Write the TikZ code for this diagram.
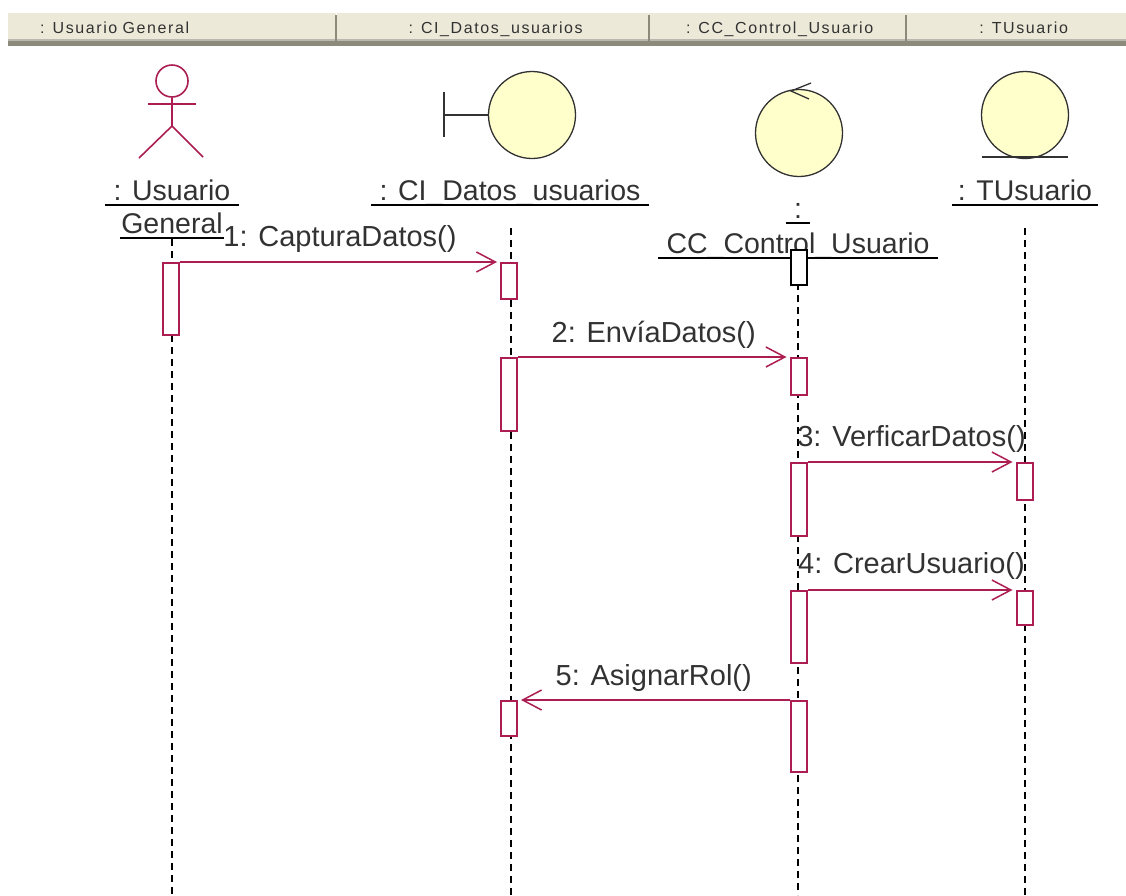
\documentclass[tikz,border=0pt]{standalone}
\usepackage{fontspec}
\usepackage{xcolor}
\usepackage{tikz}
\usetikzlibrary{positioning,arrows.meta}
\setmainfont{Liberation Sans}
\newfontfamily\hdfont[LetterSpace=10,WordSpace=2]{Liberation Sans}
\definecolor{umlred}{RGB}{172,30,82}
\definecolor{umlyel}{RGB}{255,255,204}
\definecolor{hdrbg}{RGB}{236,233,216}
\definecolor{hdrdk}{RGB}{140,138,122}
\definecolor{inkgr}{RGB}{50,50,50}
\newcommand{\bigtxt}{\fontsize{28.5}{30}\selectfont}
\newcommand{\msgtxt}{\fontsize{29}{30}\selectfont}

\begin{document}
\begin{tikzpicture}[x=1pt,y=-1pt,
 hcell/.style={fill=hdrbg,anchor=west,inner xsep=0pt,inner ysep=0pt,minimum height=33pt,text width=#1,text height=12pt,text depth=4pt,align=left,text=inkgr,font=\hdfont\fontsize{16}{18}\selectfont},
 obj/.style={circle,draw=inkgr,line width=1.3pt,fill=umlyel,minimum size=87pt,inner sep=0pt},
 nm/.style={font=\bigtxt,text=inkgr,inner xsep=8pt,inner ysep=0pt,text depth=5pt,anchor=base,
  append after command={(\tikzlastnode.south west) edge[draw=black,line width=1.5pt] (\tikzlastnode.south east)}},
 bar/.style={draw=umlred,line width=2pt,fill=white,minimum width=16pt,minimum height=#1,inner sep=0pt,anchor=north},
 life/.style={draw=black,line width=1.5pt,dash pattern=on 7pt off 5pt},
 msg/.style={draw=umlred,line width=2pt,-{Straight Barb[length=19pt,width=20pt,line width=1.5pt]},shorten >=3pt},
 ml/.style={font=\msgtxt,text=inkgr,inner sep=0pt,text depth=6pt},
 fig/.style={draw=umlred,line width=1.6pt}]
 \useasboundingbox (0,0) rectangle (1126,895);
 % header row
 \node[hcell=328pt](h1) at (8,29){\hspace*{32pt}: Usuario General};
 \node[hcell=312pt,right=0pt of h1](h2){\hspace*{72pt}: CI\_Datos\_usuarios};
 \node[hcell=257pt,right=0pt of h2](h3){\hspace*{37pt}: CC\_Control\_Usuario};
 \node[hcell=221pt,right=0pt of h3](h4){\hspace*{73pt}: TUsuario};
 \fill[hdrdk] (h1.south west) rectangle ([yshift=5pt]h4.south east);
 \fill[hdrdk!60] ([yshift=5pt]h1.south west) rectangle ([yshift=7pt]h4.south east);
 \foreach \c in {h1,h2,h3}
  \draw[hdrdk,line width=2pt] ([yshift=-3pt]\c.north east) -- ([yshift=1pt]\c.south east);
 % objects
 \node[circle,fig,fill=white,minimum size=32pt,inner sep=0pt](head) at (172,81){};
 \coordinate (hip) at (172,126);
 \coordinate (armL) at (148,104);
 \coordinate (armR) at (196,104);
 \coordinate (legL) at (139,158);
 \coordinate (legR) at (203,157);
 \draw[fig](head.south)--(hip);
 \draw[fig](armL)--(armR);
 \draw[fig](legL)--(hip)--(legR);
 \node[obj](bnd) at (532,115){};
 \coordinate (bndT) at (444,92);
 \coordinate (bndB) at (444,137);
 \coordinate (bndM) at (444,115);
 \draw[inkgr,line width=1.5pt](bndT)--(bndB);
 \draw[inkgr,line width=1.5pt](bndM)--(bnd.west);
 \node[obj](ctl) at (799,133){};
 \coordinate (ctlA) at (811,83);
 \coordinate (ctlB) at (809,99);
 \coordinate (ctlT) at (791,91);
 \draw[inkgr,line width=1.3pt](ctlA)--(ctlT)--(ctlB);
 \node[obj](ent) at (1025,115){};
 \coordinate (entL) at (982,157);
 \coordinate (entR) at (1068,157);
 \draw[inkgr,line width=1.5pt](entL)--(entR);
 % names
 \node[nm](nUa) at (172,200){: Usuario};
 \node[nm,inner xsep=1pt](nGe) at (172,233){General};
 \node[nm](nCi) at (510,200){: CI\_Datos\_usuarios};
 \node[nm](nCo) at (798,218){:};
 \node[nm](nCc) at (798,253){CC\_Control\_Usuario};
 \node[nm,inner xsep=6pt](nTu) at (1025,200){: TUsuario};
 % lifelines
 \foreach \n/\x/\y in {ua/172/239,ci/511/228,cc/798/283,tu/1025/228}{
  \coordinate (\n T) at (\x,\y);
  \coordinate (\n B) at (\x,895);
  \draw[life](\n T)--(\n B);
 }
 % activations
 \node[bar=72pt](ua1) at (171,262){};
 \node[bar=36pt](ci1) at (509,262){};
 \node[bar=73pt](ci2) at (509,357){};
 \node[bar=35pt,draw=black](cc0) at (798.5,249){};
 \node[bar=37pt](cc2) at (798.5,357){};
 \node[bar=73pt](cc3) at (798.5,462){};
 \node[bar=37pt](tu1) at (1024.5,462){};
 \node[bar=72pt](cc4) at (798.5,590){};
 \node[bar=34pt](tu2) at (1024.5,590){};
 \node[bar=71pt](cc5) at (798.5,700){};
 \node[bar=35pt](ci3) at (509,700){};
 % messages
 \draw[msg](ua1.north east)--(ci1.north west) node[midway,above=9pt,ml]{1: CapturaDatos()};
 \draw[msg](ci2.north east)--(cc2.north west) node[midway,above=8pt,ml]{2: EnvíaDatos()};
 \draw[msg](cc3.north east)--(tu1.north west) node[midway,above=9pt,ml]{3: VerficarDatos()};
 \draw[msg](cc4.north east)--(tu2.north west) node[midway,above=10pt,ml]{4: CrearUsuario()};
 \draw[msg](cc5.north west)--(ci3.north east) node[midway,above=8pt,ml]{5: AsignarRol()};
\end{tikzpicture}
\end{document}
